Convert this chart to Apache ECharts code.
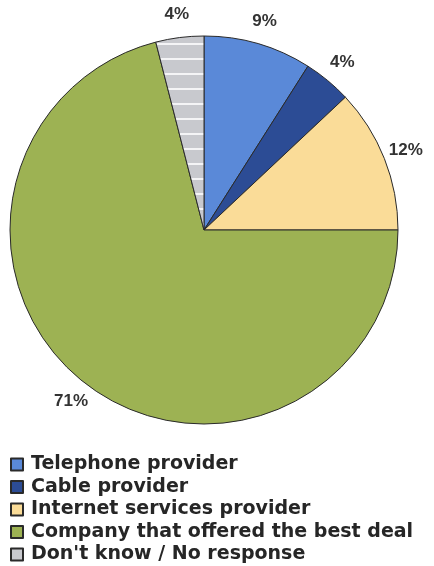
<!DOCTYPE html>
<html>
<head>
<meta charset="utf-8">
<script src="https://cdn.jsdelivr.net/npm/echarts@6/dist/echarts.min.js"></script>
<style>
  html, body { margin: 0; padding: 0; background: #fff; }
  #chart { width: 434px; height: 566px; }
</style>
</head>
<body>
<div id="chart"></div>
<script>
// Survey shares (percent), clockwise from 12 o'clock
const categories = [
  'Telephone provider',
  'Cable provider',
  'Internet services provider',
  'Company that offered the best deal',
  "Don't know / No response"
];
const values = [9, 4, 12, 71, 4];
const colors = ['#5a89d8', '#2c4c95', '#fadc98', '#9db253', null];

// Light gray fill with thin white horizontal stripes
function stripePattern() {
  const c = document.createElement('canvas');
  c.width = 8; c.height = 15;
  const ctx = c.getContext('2d');
  ctx.fillStyle = '#c8c9ce';
  ctx.fillRect(0, 0, 8, 15);
  ctx.fillStyle = '#f4f4f6';
  ctx.fillRect(0, 13, 8, 2);
  return { image: c, repeat: 'repeat' };
}

const data = categories.map((name, i) => ({
  name,
  value: values[i],
  itemStyle: { color: colors[i] || stripePattern() }
}));

const chart = echarts.init(document.getElementById('chart'), null, { renderer: 'canvas' });
chart.setOption({
  animation: false,
  backgroundColor: '#fff',
  legend: {
    orient: 'vertical',
    left: 10,
    top: 455,
    height: 120,
    padding: 0,
    itemWidth: 12,
    itemHeight: 12,
    itemGap: 3.5,
    icon: 'rect',
    selectedMode: false,
    textStyle: {
      fontFamily: 'DejaVu Sans',
      fontWeight: 'bold',
      fontSize: 19,
      color: '#262626',
      padding: [0, 0, 0, 3]
    },
    data: categories
  },
  series: [{
    type: 'pie',
    center: [204, 230],
    radius: 194,
    startAngle: 90,
    clockwise: true,
    avoidLabelOverlap: false,
    itemStyle: { borderColor: '#2a2a2a', borderWidth: 1 },
    label: {
      show: true,
      position: 'outside',
      formatter: '{c}%',
      fontFamily: 'Liberation Sans',
      fontWeight: 'bold',
      fontSize: 17,
      color: '#333'
    },
    labelLine: { show: false, length: 10, length2: 0 },
    // centre each percentage just outside its slice, along the slice's mid-angle
    labelLayout: function (p) {
      const pts = p.labelLinePoints;
      if (!pts) return {};
      const a = pts[0], b = pts[1];
      const dx = b[0] - a[0], dy = b[1] - a[1];
      const len = Math.sqrt(dx * dx + dy * dy) || 1;
      const off = 23;
      return {
        x: a[0] + dx / len * off,
        y: a[1] + dy / len * off,
        align: 'center',
        verticalAlign: 'middle'
      };
    },
    emphasis: { disabled: true },
    data
  }]
});
</script>
</body>
</html>
